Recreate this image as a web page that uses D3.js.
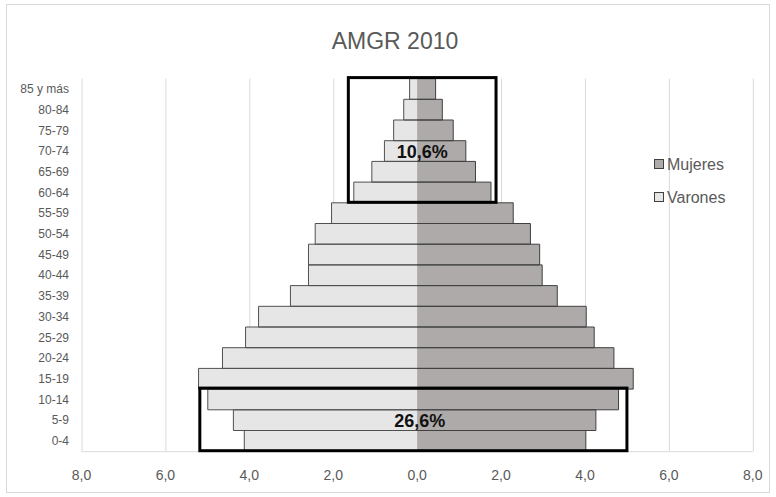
<!DOCTYPE html>
<html>
<head>
<meta charset="utf-8">
<script src="https://cdn.jsdelivr.net/npm/d3@7"></script>
<style>
  body { margin: 0; background: #fff; }
  text { font-family: "Liberation Sans", Arial, sans-serif; }
</style>
</head>
<body>
<div id="chart"></div>
<script>
// age groups, bottom to top
const ageGroups = ["0-4", "5-9", "10-14", "15-19", "20-24", "25-29", "30-34", "35-39", "40-44",
  "45-49", "50-54", "55-59", "60-64", "65-69", "70-74", "75-79", "80-84", "85 y más"];
const varones = [4.12, 4.38, 4.99, 5.21, 4.64, 4.09, 3.78, 3.02, 2.59, 2.59, 2.43, 2.04, 1.51, 1.08, 0.78, 0.56, 0.32, 0.18];
const mujeres = [4.02, 4.26, 4.80, 5.15, 4.69, 4.22, 4.03, 3.34, 2.98, 2.92, 2.70, 2.29, 1.76, 1.39, 1.16, 0.86, 0.60, 0.44];
const xTicks = [-8, -6, -4, -2, 0, 2, 4, 6, 8];
const seriesNames = ["Mujeres", "Varones"];
const boxes = [
  { from: "60-64", to: "85 y más", x0: -1.64, x1: 1.88, label: "10,6%", labelRow: "70-74", labelX: 0.12 },
  { from: "0-4", to: "10-14", x0: -5.18, x1: 5.0, label: "26,6%", labelRow: "5-9", labelX: 0.06 }
];

const width = 776, height = 497;
const plot = { left: 81.5, right: 752.8, top: 78.6, bottom: 451.2 };
const colors = { Mujeres: "#aeaaaa", Varones: "#e6e6e6" };
const textColor = "#595959";

const svg = d3.select("#chart").append("svg")
  .attr("width", width)
  .attr("height", height);

// outer chart border
svg.append("rect")
  .attr("x", 6.5).attr("y", 4.5)
  .attr("width", 763).attr("height", 488)
  .attr("fill", "#fff")
  .attr("stroke", "#d9d9d9");

const x = d3.scaleLinear().domain([-8, 8]).range([plot.left, plot.right]);
const y = d3.scaleBand()
  .domain(ageGroups.slice().reverse())
  .range([plot.top, plot.bottom])
  .padding(0);

svg.append("text")
  .attr("x", 395).attr("y", 49)
  .attr("text-anchor", "middle")
  .attr("font-size", 23)
  .attr("fill", textColor)
  .text("AMGR 2010");

// gridlines
svg.append("g")
  .selectAll("line")
  .data(xTicks)
  .join("line")
    .attr("x1", d => x(d) + 0.5).attr("x2", d => x(d) + 0.5)
    .attr("y1", plot.top).attr("y2", plot.bottom)
    .attr("stroke", "#d9d9d9");

svg.append("line")
  .attr("x1", plot.left).attr("x2", plot.right)
  .attr("y1", plot.bottom + 0.5).attr("y2", plot.bottom + 0.5)
  .attr("stroke", "#d9d9d9");

const rows = ageGroups.map((g, i) => ({ group: g, v: varones[i], m: mujeres[i] }));

// bars: fill rects, outline drawn without the centre edge
const bars = svg.append("g");
bars.selectAll("rect.v")
  .data(rows)
  .join("rect")
    .attr("class", "v")
    .attr("x", d => x(-d.v))
    .attr("y", d => y(d.group))
    .attr("width", d => x(0) - x(-d.v))
    .attr("height", y.bandwidth())
    .attr("fill", colors.Varones);
bars.selectAll("rect.m")
  .data(rows)
  .join("rect")
    .attr("class", "m")
    .attr("x", x(0))
    .attr("y", d => y(d.group))
    .attr("width", d => x(d.m) - x(0))
    .attr("height", y.bandwidth())
    .attr("fill", colors.Mujeres);

const outline = (d, val) => {
  const p = d3.path();
  const y0 = y(d.group), y1 = y0 + y.bandwidth();
  p.moveTo(x(0), y0);
  p.lineTo(x(val), y0);
  p.lineTo(x(val), y1);
  p.lineTo(x(0), y1);
  return p.toString();
};
bars.selectAll("path.vo")
  .data(rows)
  .join("path")
    .attr("d", d => outline(d, -d.v))
    .attr("fill", "none")
    .attr("stroke", "#505050");
bars.selectAll("path.mo")
  .data(rows)
  .join("path")
    .attr("d", d => outline(d, d.m))
    .attr("fill", "none")
    .attr("stroke", "#404040");

// category labels
svg.append("g")
  .selectAll("text")
  .data(ageGroups)
  .join("text")
    .attr("x", 69)
    .attr("y", d => y(d) + y.bandwidth() / 2)
    .attr("dy", "0.35em")
    .attr("text-anchor", "end")
    .attr("font-size", 12)
    .attr("fill", textColor)
    .text(d => d);

// x tick labels
const fmt = d => Math.abs(d).toFixed(1).replace(".", ",");
svg.append("g")
  .selectAll("text")
  .data(xTicks)
  .join("text")
    .attr("x", d => x(d))
    .attr("y", 480)
    .attr("text-anchor", "middle")
    .attr("font-size", 14)
    .attr("fill", textColor)
    .text(fmt);

// annotation boxes
const ann = svg.append("g");
boxes.forEach(b => {
  const top = y(b.to), bottom = y(b.from) + y.bandwidth();
  ann.append("rect")
    .attr("x", x(b.x0)).attr("y", top - 1)
    .attr("width", x(b.x1) - x(b.x0))
    .attr("height", bottom - top + 0.5)
    .attr("fill", "none")
    .attr("stroke", "#000")
    .attr("stroke-width", 3);
  ann.append("text")
    .attr("x", x(b.labelX))
    .attr("y", y(b.labelRow) + y.bandwidth() / 2)
    .attr("dy", "0.36em")
    .attr("text-anchor", "middle")
    .attr("font-size", 18)
    .attr("font-weight", "bold")
    .attr("fill", "#111")
    .text(b.label);
});

// legend
const legend = svg.append("g")
  .selectAll("g")
  .data(seriesNames)
  .join("g")
    .attr("transform", (d, i) => `translate(654, ${164 + i * 33})`);
legend.append("rect")
  .attr("x", 0.5).attr("y", -4.5)
  .attr("width", 9).attr("height", 9)
  .attr("fill", d => colors[d])
  .attr("stroke", "#404040");
legend.append("text")
  .attr("x", 13)
  .attr("dy", "0.36em")
  .attr("font-size", 16)
  .attr("fill", textColor)
  .text(d => d);
</script>
</body>
</html>
